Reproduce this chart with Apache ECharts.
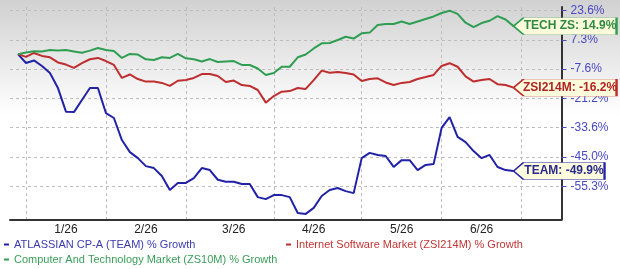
<!DOCTYPE html>
<html>
<head>
<meta charset="utf-8">
<script src="https://cdn.jsdelivr.net/npm/echarts@6/dist/echarts.min.js"></script>
<style>
  html, body { margin: 0; padding: 0; background: #fff; }
  #chart {
    width: 620px;
    height: 269px;
    background: linear-gradient(to bottom, #d1d1d1 0px, #ffffff 115px);
  }
</style>
</head>
<body>
<div id="chart"></div>
<script>
// x slots: one every ~2 trading days, slot 1 = start, slot 63 = last close
const categories = Array.from({ length: 70 }, (_, i) => String(i));
const monthLineIdx = [2, 12, 22, 33, 44, 54, 64];
const monthLabelIdx = [7, 17, 28, 38, 49, 59];
const monthLabels = ["1/26", "2/26", "3/26", "4/26", "5/26", "6/26"];

// right axis ticks (evenly spaced on the chart, values as printed)
const tickValues = [-55.3, -45.0, -33.6, -21.2, -7.6, 7.3, 23.6];
const tickLabels = ["-55.3%", "-45.0%", "-33.6%", "-21.2%", "-7.6%", "7.3%", "23.6%"];

// % growth
const teamGrowth = [
  0, -4.5, -3.2, -6.0, -9.4, -16.4, -26.8, -27.0, -21.9, -16.4,
  -16.4, -27.4, -29.5, -38.4, -43.1, -45.4, -48.2, -48.9, -51.7, -56.6,
  -54.1, -54.1, -52.4, -48.9, -49.6, -53.0, -53.7, -53.7, -54.5, -54.5,
  -59.1, -59.8, -58.4, -58.4, -59.1, -64.7, -65.0, -62.9, -58.7, -56.6,
  -55.9, -57.0, -57.7, -45.4, -43.4, -44.2, -44.6, -48.5, -46.1, -46.1,
  -49.6, -47.8, -47.5, -33.7, -29.1, -37.2, -39.2, -42.7, -45.4, -44.2,
  -48.5, -49.6, -49.9
];
const zsi214mGrowth = [
  0, -1.4, 0.6, -0.9, -1.6, -4.2, -5.3, -7.0, -4.6, -2.6,
  -1.9, -3.5, -5.5, -11.7, -10.1, -12.2, -13.4, -13.4, -14.0, -15.4,
  -13.0, -12.7, -11.7, -9.9, -9.9, -10.8, -13.6, -12.9, -15.0, -15.4,
  -17.3, -23.0, -20.1, -18.1, -17.8, -16.4, -16.8, -12.7, -8.3, -9.3,
  -8.9, -9.4, -10.1, -13.1, -12.2, -11.9, -13.8, -15.0, -14.0, -13.6,
  -12.2, -11.3, -10.3, -6.0, -4.6, -6.4, -11.0, -13.4, -12.7, -12.2,
  -14.6, -15.0, -16.2
];
const zs10mGrowth = [
  0, 0.8, 1.5, 1.4, 2.1, 1.9, 2.1, 1.4, 0.7, 1.8,
  3.1, 2.1, 1.6, -1.9, 0.1, -0.2, -2.6, -3.0, -1.6, -1.9,
  0.1, -2.1, -2.6, -3.7, -2.5, -4.0, -3.7, -3.5, -5.5, -5.5,
  -7.3, -10.3, -9.4, -6.4, -6.4, -1.6, -0.2, 2.9, 5.5, 5.7,
  7.2, 9.0, 8.0, 10.9, 11.3, 15.5, 16.1, 16.1, 17.5, 16.1,
  17.5, 18.9, 20.3, 22.2, 23.5, 21.7, 16.8, 14.4, 16.6, 17.9,
  20.5, 18.6, 14.9
];

const FONT = "Liberation Sans";

// the printed axis is evenly spaced between uneven values: place by tick segment
function toAxis(p) {
  if (p == null) return null;
  let k = 0;
  while (k < tickValues.length - 2 && p > tickValues[k + 1]) k++;
  return k + (p - tickValues[k]) / (tickValues[k + 1] - tickValues[k]);
}

function calloutPath(w, h) {
  const a = 10;
  return `path://M0,${h / 2}L${a},0L${w},0L${w},${h}L${a},${h}Z`;
}

function makeSeries(name, values, color, textColor, tag, boxW) {
  const last = values.length;
  const h = 17;
  return {
    name,
    type: "line",
    data: [null].concat(values.map(toAxis)),
    symbol: "none",
    lineStyle: { color, width: 2 },
    itemStyle: { color },
    z: 3,
    markPoint: {
      silent: true,
      animation: false,
      symbol: calloutPath(boxW, h),
      symbolSize: [boxW, h],
      symbolKeepAspect: false,
      symbolOffset: [boxW / 2, 0],
      itemStyle: { color: "#fcfbdc", borderColor: color, borderWidth: 1 },
      label: {
        show: true,
        position: "inside",
        offset: [5, 0],
        color: textColor,
        fontFamily: FONT,
        fontWeight: "bold",
        fontSize: 12,
        formatter: () => `${tag}: ${values[last - 1].toFixed(1)}%`
      },
      data: [{ coord: [last, toAxis(values[last - 1])] }]
    }
  };
}

function legendAt(name, color, left, top) {
  return {
    show: true,
    selectedMode: false,
    left,
    top,
    icon: "rect",
    itemWidth: 5,
    itemHeight: 2,
    padding: 0,
    data: [{ name, textStyle: { color } }],
    textStyle: { fontFamily: FONT, fontSize: 11 }
  };
}

const chart = echarts.init(document.getElementById("chart"), null, { renderer: "canvas" });

const pxPerTick = 29.3;
const gridLine = { color: "#bdbdbd", type: [3, 3], width: 1 };
const option = {
  backgroundColor: "transparent",
  animation: false,
  textStyle: { fontFamily: FONT },
  grid: { left: 10, right: 58.5, top: 7, bottom: 49.5, containLabel: false },
  legend: [
    legendAt("ATLASSIAN CP-A (TEAM) % Growth", "#3a3aae", 4, 239),
    legendAt("Internet Software Market (ZSI214M) % Growth", "#c03535", 286, 239),
    legendAt("Computer And Technology Market (ZS10M) % Growth", "#3a9e58", 4, 254)
  ],
  xAxis: {
    type: "category",
    data: categories,
    boundaryGap: false,
    axisLine: { onZero: false, lineStyle: { color: "#333", width: 2 } },
    axisTick: { show: false },
    axisLabel: {
      interval: (i) => monthLabelIdx.includes(i),
      formatter: (v, i) => monthLabels[monthLabelIdx.indexOf(i)] || "",
      color: "#222",
      fontSize: 12,
      margin: 4
    },
    splitLine: {
      show: true,
      interval: (i) => monthLineIdx.includes(i),
      lineStyle: gridLine
    }
  },
  yAxis: {
    type: "value",
    position: "right",
    min: -33.2 / pxPerTick,
    max: 6 + 3.5 / pxPerTick,
    axisLine: { show: true, onZero: false, lineStyle: { color: "#333", width: 2 } },
    axisTick: {
      show: true,
      customValues: [0, 1, 2, 3, 4, 5, 6],
      length: 5,
      lineStyle: { color: "#4848c0" }
    },
    axisLabel: {
      customValues: [0, 1, 2, 3, 4, 5, 6],
      formatter: (v) => tickLabels[Math.round(v)],
      color: "#4848c0",
      fontSize: 12,
      margin: 9
    },
    splitLine: { show: true, lineStyle: gridLine }
  },
  series: [
    makeSeries("ATLASSIAN CP-A (TEAM) % Growth", teamGrowth, "#2222a6", "#2a2a8c", "TEAM", 91),
    makeSeries("Internet Software Market (ZSI214M) % Growth", zsi214mGrowth, "#bf2e2e", "#b02424", "ZSI214M", 103),
    makeSeries("Computer And Technology Market (ZS10M) % Growth", zs10mGrowth, "#2f9e52", "#2e8a40", "TECH ZS", 103)
  ]
};

chart.setOption(option);
</script>
</body>
</html>
